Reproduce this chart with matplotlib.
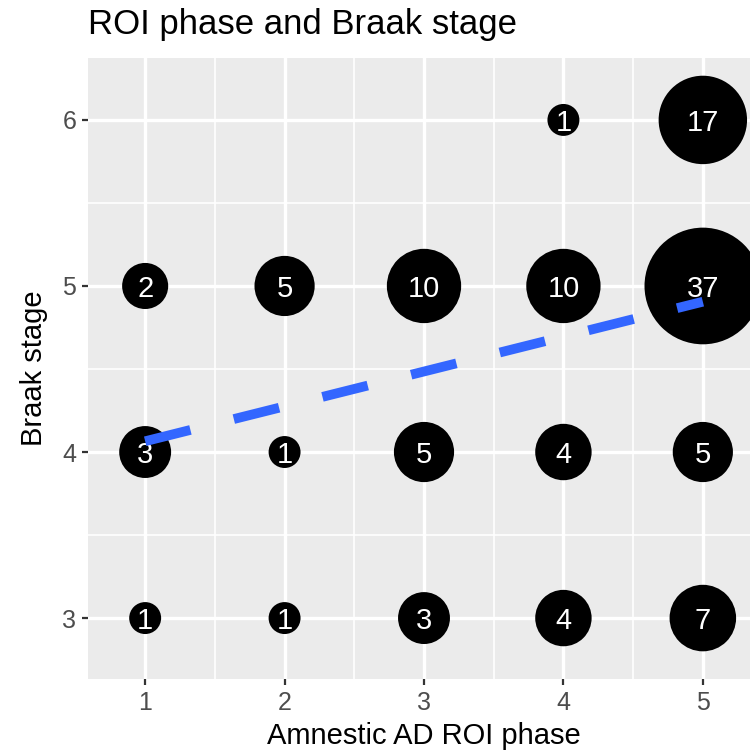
import numpy as np
import matplotlib
matplotlib.use("Agg")
import matplotlib.pyplot as plt

plt.rcParams["font.family"] = ["Liberation Sans", "DejaVu Sans"]

# counts of cases for each (ROI phase, Braak stage) pair
roi_phase = [4, 5,
             1, 2, 3, 4, 5,
             1, 2, 3, 4, 5,
             1, 2, 3, 4, 5]
braak_stage = [6, 6,
               5, 5, 5, 5, 5,
               4, 4, 4, 4, 4,
               3, 3, 3, 3, 3]
counts = [1, 17,
          2, 5, 10, 10, 37,
          3, 1, 5, 4, 5,
          1, 1, 3, 4, 7]

x_ticks = [1, 2, 3, 4, 5]
y_ticks = [3, 4, 5, 6]

x = np.array(roi_phase, dtype=float)
y = np.array(braak_stage, dtype=float)
n = np.array(counts, dtype=float)

# ggplot-like area scale: radius grows with sqrt of rescaled count
r_min, r_max = 11.5, 42.0  # points
scaled = (n - n.min()) / (n.max() - n.min())
radius = r_min + (r_max - r_min) * np.sqrt(scaled)
sizes = (2 * radius) ** 2

# linear fit on the expanded data (weights = counts)
slope, intercept = np.polyfit(x, y, 1, w=np.sqrt(n))
fit_x = np.array([min(x_ticks), max(x_ticks)], dtype=float)
fit_y = intercept + slope * fit_x

fig = plt.figure(figsize=(7.5, 7.55), dpi=100)
ax = fig.add_axes([88 / 750, 76 / 755, 672 / 750, 621 / 755])
ax.set_facecolor("#EBEBEB")

ax.set_xlim(0.59, 5.41)
ax.set_ylim(2.633, 6.373)

ax.set_xticks(x_ticks)
ax.set_yticks(y_ticks)
ax.set_xticks([1.5, 2.5, 3.5, 4.5], minor=True)
ax.set_yticks([3.5, 4.5, 5.5], minor=True)
ax.grid(which="major", color="white", linewidth=2.4)
ax.grid(which="minor", color="white", linewidth=1.2)
ax.set_axisbelow(True)
for sp in ax.spines.values():
    sp.set_visible(False)

ax.tick_params(which="major", length=4.5, width=1.6, color="#333333",
               labelcolor="#4D4D4D", labelsize=18, pad=4)
ax.tick_params(which="minor", length=0)

ax.scatter(x, y, s=sizes, color="black", edgecolors="none", zorder=3)
for xi, yi, c in zip(roi_phase, braak_stage, counts):
    ax.text(xi, yi, str(c), color="white", fontsize=21,
            ha="center", va="center_baseline", zorder=4)

ax.plot(fit_x, fit_y, color="#3366FF", linewidth=7, solid_capstyle="butt",
        dash_capstyle="butt", dashes=(4.8, 4.6), zorder=5)

ax.set_xlabel("Amnestic AD ROI phase", fontsize=21, labelpad=5)
ax.set_ylabel("Braak stage", fontsize=21, labelpad=10)

fig.text(88 / 750, 1 - 34 / 755, "ROI phase and Braak stage",
         fontsize=25, ha="left", va="baseline")

fig.savefig("out.png", dpi=100)
